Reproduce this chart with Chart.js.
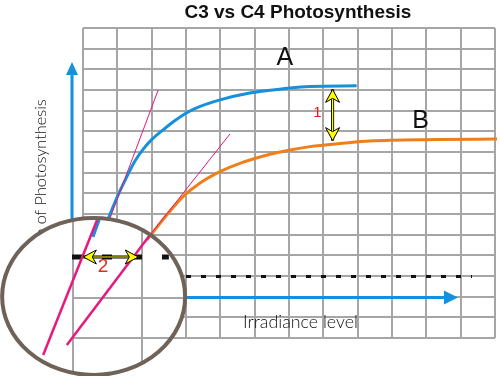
<!DOCTYPE html>
<html>
<head>
<meta charset="utf-8">
<script src="https://cdn.jsdelivr.net/npm/chart.js@4.4.1/dist/chart.umd.min.js"></script>
<style>
  html, body { margin: 0; padding: 0; background: #fff; }
  canvas { display: block; }
</style>
</head>
<body>
<canvas id="c" width="500" height="376"></canvas>
<script>
// grid: 12 columns x 15 rows, no numbers on either axis
const X_MAX = 12, Y_MAX = 15;

// curve A (C3) and curve B (C4) in grid units
const c3X = [0.74, 1.03, 1.27, 1.51, 1.76, 2.00, 2.39, 2.68, 2.97, 3.26, 3.99, 4.86, 5.54, 6.03, 6.61, 7.97];
const c3Y = [5.80, 6.95, 7.78, 8.55, 9.15, 9.60, 10.15, 10.52, 10.85, 11.10, 11.52, 11.85, 12.00, 12.10, 12.17, 12.20];
const c4X = [1.86, 2.44, 2.92, 3.41, 3.99, 4.57, 5.45, 6.03, 6.61, 7.57, 8.36, 10.31, 12.06];
const c4Y = [4.74, 5.95, 6.85, 7.50, 8.05, 8.45, 8.89, 9.10, 9.26, 9.42, 9.53, 9.60, 9.63];

// initial-slope tangents (outer part thin, magnified part inside the lens thicker)
const tanAX = [0.79, 2.19];
const tanAY = [5.81, 12.0];
const tanAInX = [-1.16, 0.41];
const tanAInY = [-0.82, 5.71];
const tanBX = [1.95, 4.28];
const tanBY = [4.98, 9.87];
const tanBInX = [-0.47, 1.95];
const tanBInY = [-0.34, 4.98];
const c3InX = [0.29, 0.47];
const c3InY = [4.89, 5.71];

const BLUE = '#1590dd', ORANGE = '#ee7f1b', PINK = '#e6197d', BROWN = '#6e6259';
const GRID = '#a6a6a6';

// annotation anchors, grid units
const notes = {
  title: { x: 6.26, y: 15.72, text: 'C3 vs C4 Photosynthesis' },
  a: { x: 5.88, y: 13.52, text: 'A' },
  b: { x: 9.83, y: 10.5, text: 'B' },
  one: { x: 6.83, y: 10.89, text: '1' },
  two: { x: 0.58, y: 3.46, text: '2' },
  xLabel: { x: 4.66, y: 0.77, text: 'Irradiance level', w: 115 },
  yLabel: { x: -1.22, y: 11.55, text: 'Rate of Photosynthesis', fit: 'of Photosynthesis', w: 125 },
  arrowY: { x: -0.32, y0: 5.0, y1: 13.35 },
  arrowX: { y: 1.96, x0: 2.0, x1: 10.92 },
  dotted: { y: 2.98, x0: 3.0, x1: 11.33 },
  gap: { y: 3.92, x0: 0.01, x1: 1.61, dash0: -0.32, dash1: 2.5 },
  diff: { x: 7.27, y0: 12.03, y1: 9.55 },
  lens: { x: 0.31, y: 2.01, rx: 2.665, ry: 3.80 },
  lensGridX: [-0.29, 1.72],
  lensGridY: [0, 1.94],
};

const THIN = 'Lato, "DejaVu Sans", sans-serif';

const pts = (xs, ys) => xs.map((x, i) => ({ x, y: ys[i] }));

function line(data, color, width, order) {
  return {
    data, showLine: true, borderColor: color, borderWidth: width,
    pointRadius: 0, cubicInterpolationMode: 'monotone', clip: false, order,
  };
}

function yellowArrow(ctx, x1, y1, x2, y2) {
  const ang = Math.atan2(y2 - y1, x2 - x1);
  ctx.save();
  ctx.strokeStyle = '#000'; ctx.lineWidth = 3;
  ctx.beginPath(); ctx.moveTo(x1, y1); ctx.lineTo(x2, y2); ctx.stroke();
  ctx.strokeStyle = '#ffff00'; ctx.lineWidth = 1.2;
  ctx.beginPath(); ctx.moveTo(x1, y1); ctx.lineTo(x2, y2); ctx.stroke();
  [[x2, y2, ang], [x1, y1, ang + Math.PI]].forEach(([tx, ty, a]) => {
    ctx.save();
    ctx.translate(tx, ty); ctx.rotate(a);
    ctx.beginPath();
    ctx.moveTo(0, 0); ctx.lineTo(-13, -7); ctx.lineTo(-9, 0); ctx.lineTo(-13, 7); ctx.closePath();
    ctx.fillStyle = '#ffff00'; ctx.fill();
    ctx.strokeStyle = '#000'; ctx.lineWidth = 1; ctx.stroke();
    ctx.restore();
  });
  ctx.restore();
}

// font size chosen so that `fit` has the width it has in the picture
function fitFont(ctx, fit, w, weight, family) {
  ctx.font = `${weight} 20px ${family}`;
  const size = 20 * w / ctx.measureText(fit).width;
  ctx.font = `${weight} ${size.toFixed(1)}px ${family}`;
}

const overlay = {
  id: 'overlay',
  beforeDatasetsDraw(chart) {
    const { ctx } = chart;
    const sx = v => chart.scales.x.getPixelForValue(v);
    const sy = v => chart.scales.y.getPixelForValue(v);
    ctx.save();

    // blue axis arrows
    ctx.strokeStyle = BLUE; ctx.fillStyle = BLUE; ctx.lineWidth = 3;
    const ay = notes.arrowY, ax = notes.arrowX;
    ctx.beginPath(); ctx.moveTo(sx(ay.x), sy(ay.y0)); ctx.lineTo(sx(ay.x), sy(ay.y1) + 10); ctx.stroke();
    ctx.beginPath();
    ctx.moveTo(sx(ay.x), sy(ay.y1)); ctx.lineTo(sx(ay.x) - 6, sy(ay.y1) + 13); ctx.lineTo(sx(ay.x) + 6, sy(ay.y1) + 13);
    ctx.closePath(); ctx.fill();
    ctx.beginPath(); ctx.moveTo(sx(ax.x0), sy(ax.y)); ctx.lineTo(sx(ax.x1) - 10, sy(ax.y)); ctx.stroke();
    ctx.beginPath();
    ctx.moveTo(sx(ax.x1), sy(ax.y)); ctx.lineTo(sx(ax.x1) - 14, sy(ax.y) - 7); ctx.lineTo(sx(ax.x1) - 14, sy(ax.y) + 7);
    ctx.closePath(); ctx.fill();

    // dotted threshold line
    const d = notes.dotted;
    ctx.strokeStyle = '#111'; ctx.lineWidth = 3; ctx.setLineDash([5, 10]);
    ctx.beginPath(); ctx.moveTo(sx(d.x0), sy(d.y)); ctx.lineTo(sx(d.x1), sy(d.y)); ctx.stroke();
    ctx.setLineDash([]);

    // y axis label (its start is hidden by the lens)
    ctx.fillStyle = '#111';
    ctx.translate(sx(notes.yLabel.x), sy(notes.yLabel.y));
    ctx.rotate(-Math.PI / 2);
    ctx.textAlign = 'right'; ctx.textBaseline = 'middle';
    fitFont(ctx, notes.yLabel.fit, notes.yLabel.w, 300, THIN);
    ctx.fillText(notes.yLabel.text, 0, 0);
    ctx.setTransform(1, 0, 0, 1, 0, 0);

    // lens: white disc with its own magnified grid
    const l = notes.lens;
    const cx = sx(l.x), cy = sy(l.y);
    const rx = sx(l.x + l.rx) - cx, ry = cy - sy(l.y + l.ry);
    ctx.beginPath(); ctx.ellipse(cx, cy, rx, ry, 0, 0, Math.PI * 2);
    ctx.fillStyle = '#fff'; ctx.fill();
    ctx.save();
    ctx.clip();
    ctx.strokeStyle = GRID; ctx.lineWidth = 2;
    notes.lensGridX.forEach(v => {
      ctx.beginPath(); ctx.moveTo(Math.round(sx(v)), sy(-2)); ctx.lineTo(Math.round(sx(v)), sy(6)); ctx.stroke();
    });
    notes.lensGridY.forEach(v => {
      ctx.beginPath(); ctx.moveTo(sx(notes.lensGridX[0]), Math.round(sy(v))); ctx.lineTo(sx(4), Math.round(sy(v))); ctx.stroke();
    });
    // magnified dashes of the threshold line
    const g = notes.gap;
    ctx.strokeStyle = '#111'; ctx.lineWidth = 5; ctx.setLineDash([10, 20]);
    ctx.beginPath(); ctx.moveTo(sx(g.dash0), sy(g.y)); ctx.lineTo(sx(g.dash1), sy(g.y)); ctx.stroke();
    ctx.setLineDash([]);
    ctx.restore();
    ctx.restore();
  },
  afterDatasetsDraw(chart) {
    const { ctx } = chart;
    const sx = v => chart.scales.x.getPixelForValue(v);
    const sy = v => chart.scales.y.getPixelForValue(v);
    ctx.save();

    // lens rim
    const l = notes.lens;
    const cx = sx(l.x), cy = sy(l.y);
    const rx = sx(l.x + l.rx) - cx, ry = cy - sy(l.y + l.ry);
    ctx.beginPath(); ctx.ellipse(cx, cy, rx, ry, 0, 0, Math.PI * 2);
    ctx.strokeStyle = BROWN; ctx.lineWidth = 4; ctx.stroke();

    // double arrows
    const g = notes.gap, df = notes.diff;
    yellowArrow(ctx, sx(g.x0), sy(g.y), sx(g.x1), sy(g.y));
    yellowArrow(ctx, sx(df.x), sy(df.y0), sx(df.x), sy(df.y1));

    // labels
    ctx.textAlign = 'center'; ctx.textBaseline = 'middle';
    ctx.fillStyle = '#111';
    ctx.font = 'bold 19px "Liberation Sans", Arial, sans-serif';
    ctx.fillText(notes.title.text, sx(notes.title.x), sy(notes.title.y));
    ctx.font = '25px "Liberation Sans", Arial, sans-serif';
    ctx.fillText(notes.a.text, sx(notes.a.x), sy(notes.a.y));
    ctx.fillText(notes.b.text, sx(notes.b.x), sy(notes.b.y));
    ctx.fillStyle = '#e0201c';
    ctx.font = '15px "Liberation Sans", Arial, sans-serif';
    ctx.fillText(notes.one.text, sx(notes.one.x), sy(notes.one.y));
    ctx.fillStyle = '#d9301c';
    ctx.font = '19px "Liberation Sans", Arial, sans-serif';
    ctx.fillText(notes.two.text, sx(notes.two.x), sy(notes.two.y));

    ctx.fillStyle = '#111';
    ctx.textAlign = 'left';
    fitFont(ctx, notes.xLabel.text, notes.xLabel.w, 300, THIN);
    ctx.fillText(notes.xLabel.text, sx(notes.xLabel.x), sy(notes.xLabel.y));
    ctx.restore();
  },
};

const axis = max => ({
  type: 'linear', min: 0, max,
  ticks: { display: false, stepSize: 1, autoSkip: false },
  grid: { color: GRID, lineWidth: 2, drawTicks: false },
  border: { display: false },
});

new Chart(document.getElementById('c'), {
  type: 'scatter',
  data: {
    datasets: [
      line(pts(tanAX, tanAY), PINK, 1, 0),
      line(pts(tanBX, tanBY), PINK, 1, 0),
      line(pts(tanAInX, tanAInY), PINK, 2.5, 0),
      line(pts(tanBInX, tanBInY), PINK, 2.5, 0),
      line(pts(c3InX, c3InY), BLUE, 3, 1),
      line(pts(c3X, c3Y), BLUE, 3, 1),
      line(pts(c4X, c4Y), ORANGE, 3, 1),
    ],
  },
  options: {
    responsive: false,
    animation: false,
    layout: { padding: { left: 83, right: 5, top: 28, bottom: 38 } },
    plugins: { legend: { display: false }, tooltip: { enabled: false } },
    scales: { x: axis(X_MAX), y: axis(Y_MAX) },
  },
  plugins: [overlay],
});
</script>
</body>
</html>
